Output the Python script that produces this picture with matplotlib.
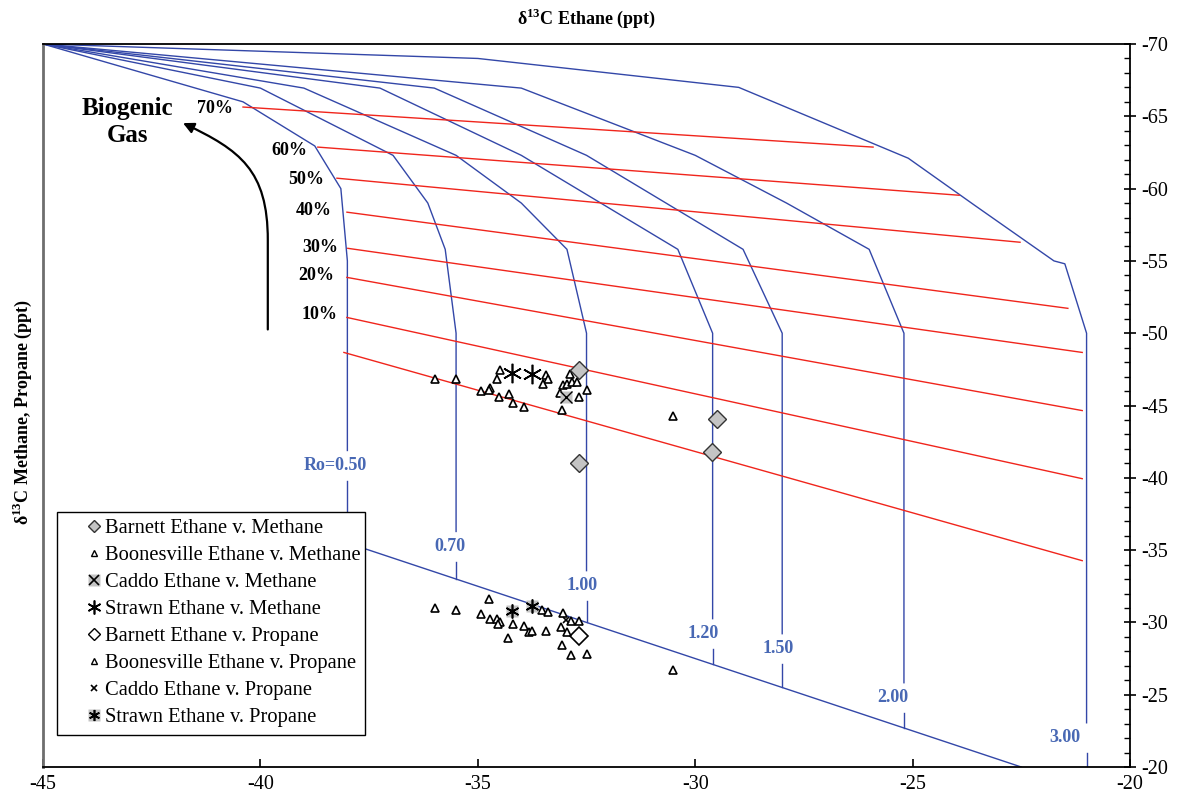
import numpy as np
import matplotlib.pyplot as plt
from matplotlib.lines import Line2D
from matplotlib.patches import FancyArrowPatch, Rectangle
from matplotlib.path import Path
from matplotlib.ticker import MultipleLocator

plt.rcParams['font.family'] = ['Liberation Serif', 'DejaVu Serif']
plt.rcParams['mathtext.fontset'] = 'custom'
plt.rcParams['mathtext.rm'] = 'Liberation Serif'
plt.rcParams['mathtext.bf'] = 'Liberation Serif:bold'
plt.rcParams['axes.unicode_minus'] = False

# --- maturity (Ro) curves: delta13C ethane vs methane ---
ro_labels = ['Ro=0.50', '0.70', '1.00', '1.20', '1.50', '2.00', '3.00']
ro_x = [
    [-45, -40.4, -38.75, -38.15, -38.0],
    [-45, -40.0, -36.95, -36.15, -35.75, -35.5],
    [-45, -39.0, -35.5, -34.0, -32.95, -32.5],
    [-45, -37.25, -34.0, -30.4, -29.6],
    [-45, -36.0, -32.5, -28.9, -28.0],
    [-45, -34.0, -30.0, -27.9, -26.0, -25.2],
    [-45, -35.0, -29.0, -25.1, -23.6, -21.75, -21.5, -21.0],
]
ro_y = [
    [-70, -66.0, -62.95, -60.0, -55.0],
    [-70, -66.95, -62.3, -59.0, -55.8, -50.0],
    [-70, -66.95, -62.3, -59.0, -55.8, -50.0],
    [-70, -66.95, -62.3, -55.8, -50.0],
    [-70, -66.95, -62.3, -55.8, -50.0],
    [-70, -66.95, -62.3, -59.0, -55.8, -50.0],
    [-70, -69.0, -67.0, -62.1, -58.9, -55.0, -54.8, -50.0],
]
ro_label_x = [-38.28, -35.64, -32.6, -29.82, -28.1, -25.45, -21.5]
ro_label_y = [-40.84, -35.24, -32.53, -29.21, -28.17, -24.78, -22.01]

# ethane-propane maturity line
base_x = [-40.0, -22.5]
base_y = [-37.5, -20.0]

# --- mixing lines (% biogenic) ---
pct_labels = ['70%', '60%', '50%', '40%', '30%', '20%', '10%', '']
red_x0 = [-40.40, -38.68, -38.24, -38.01, -37.99, -38.01, -38.01, -38.08]
red_y0 = [-65.64, -62.87, -60.72, -58.37, -55.87, -53.86, -51.09, -48.67]
red_x1 = [-25.91, -23.93, -22.53, -21.43, -21.10, -21.10, -21.10, -21.10]
red_y1 = [-62.87, -59.54, -56.29, -51.72, -48.67, -44.65, -39.94, -34.27]
pct_label_x = [-41.04, -39.34, -38.95, -38.77, -38.63, -38.72, -38.63]
pct_label_y = [-65.57, -62.66, -60.65, -58.50, -55.94, -54.00, -51.30]

# --- samples ---
barnett_m_x = [-32.67, -29.51, -29.61, -32.67]
barnett_m_y = [-47.49, -44.08, -41.77, -41.03]
boone_m_x = [-35.98, -35.51, -34.48, -34.55, -34.93, -34.72, -34.74, -34.52, -34.29, -34.20,
             -33.94, -33.43, -33.39, -33.51, -32.87, -33.05, -32.95, -32.84, -32.73, -33.10,
             -32.67, -32.48, -33.06, -30.51]
boone_m_y = [-46.85, -46.85, -47.49, -46.80, -46.00, -46.18, -46.05, -45.57, -45.81, -45.16,
             -44.90, -47.13, -46.80, -46.50, -47.16, -46.39, -46.50, -46.66, -46.66, -45.85,
             -45.62, -46.09, -44.72, -44.25]
caddo_m_x = [-32.98]
caddo_m_y = [-45.57]
strawn_m_x = [-34.21, -33.76]
strawn_m_y = [-47.26, -47.15]

barnett_p_x = [-32.67]
barnett_p_y = [-29.05]
boone_p_x = [-35.98, -35.51, -34.74, -34.93, -34.72, -34.55, -34.49, -34.53, -34.20, -34.30,
             -33.94, -33.82, -33.76, -33.43, -33.52, -33.39, -33.05, -32.86, -32.67, -33.09,
             -32.96, -33.06, -32.86, -32.48, -30.51]
boone_p_y = [-30.99, -30.85, -31.61, -30.57, -30.27, -30.23, -30.04, -29.88, -29.88, -28.89,
             -29.76, -29.37, -29.42, -29.42, -30.87, -30.73, -30.62, -30.11, -30.11, -29.65,
             -29.37, -28.43, -27.76, -27.80, -26.72]
caddo_p_x = [-32.97]
caddo_p_y = [-30.16]
strawn_p_x = [-34.21, -33.76]
strawn_p_y = [-30.80, -31.15]

blue = '#3347a8'
label_blue = '#4868b4'
red = '#f0251c'
grey = '#c4c4c4'
star6 = (6, 2, 0)

fig = plt.figure(figsize=(11.78, 7.97), dpi=100)
ax = fig.add_axes([0.0365, 0.0376, 0.9228, 0.9072])

# Ro curves with a gap where the label sits
for xs, ys, lab, lx, ly in zip(ro_x, ro_y, ro_labels, ro_label_x, ro_label_y):
    xv = xs[-1]
    bottom = xv + 2.5 if xv + 2.5 < -20 else -20.0
    ax.plot(xs + [xv], ys + [ly - 1.05], color=blue, lw=1.0, zorder=2)
    ax.plot([xv, xv], [ly + 1.05, bottom], color=blue, lw=1.0, zorder=2)
    ax.text(lx, ly, lab, color=label_blue, fontsize=13, fontweight='bold',
            ha='center', va='center', zorder=3)

ax.plot(base_x, base_y, color=blue, lw=1.0, zorder=2)

for x0, y0, x1, y1 in zip(red_x0, red_y0, red_x1, red_y1):
    ax.plot([x0, x1], [y0, y1], color=red, lw=1.0, zorder=2)
for lab, lx, ly in zip(pct_labels, pct_label_x, pct_label_y):
    ax.text(lx, ly, lab, fontsize=13, fontweight='bold', ha='center', va='center')

# biogenic gas arrow
verts = [(-39.83, -50.26), (-39.83, -56.43), (-39.83, -61.27), (-40.47, -62.66), (-41.78, -64.53)]
codes = [Path.MOVETO, Path.LINETO, Path.CURVE4, Path.CURVE4, Path.CURVE4]
arrow = FancyArrowPatch(path=Path(verts, codes), arrowstyle='-|>', mutation_scale=16,
                        color='black', lw=1.6)
ax.add_patch(arrow)
ax.text(-43.05, -64.6, 'Biogenic\nGas', fontsize=18, fontweight='bold', ha='center',
        va='center', linespacing=1.2)

# samples
ax.plot(boone_m_x, boone_m_y, ls='none', marker='^', ms=5.5, mfc='white', mec='black', mew=1.2, zorder=4)
ax.plot(boone_p_x, boone_p_y, ls='none', marker='^', ms=5.5, mfc='white', mec='black', mew=1.2, zorder=4)
ax.plot(barnett_m_x, barnett_m_y, ls='none', marker='D', ms=9, mfc=grey, mec='#333333', mew=1.0, zorder=5)
ax.plot(barnett_p_x, barnett_p_y, ls='none', marker='D', ms=9, mfc='none', mec='black', mew=1.2, zorder=5)
ax.plot(caddo_m_x, caddo_m_y, ls='none', marker='s', ms=9, mfc=grey, mec='none', zorder=5)
ax.plot(caddo_m_x, caddo_m_y, ls='none', marker='x', ms=9, mec='black', mew=1.0, zorder=6)
ax.plot(caddo_p_x, caddo_p_y, ls='none', marker='x', ms=5, mec='black', mew=1.2, zorder=6)
ax.plot(strawn_m_x, strawn_m_y, ls='none', marker=star6, ms=14, mec='black', mew=1.2, zorder=6)
ax.plot(strawn_p_x, strawn_p_y, ls='none', marker='s', ms=8, mfc=grey, mec='none', zorder=5)
ax.plot(strawn_p_x, strawn_p_y, ls='none', marker=star6, ms=10, mec='black', mew=1.2, zorder=6)

# legend
handles = [
    Line2D([], [], ls='none', marker='D', ms=6, mfc=grey, mec='#333333'),
    Line2D([], [], ls='none', marker='^', ms=4, mfc='white', mec='black'),
    (Line2D([], [], ls='none', marker='s', ms=8, mfc=grey, mec='none'),
     Line2D([], [], ls='none', marker='x', ms=7, mec='black', mew=1.2)),
    Line2D([], [], ls='none', marker=star6, ms=10, mec='black', mew=1.2),
    Line2D([], [], ls='none', marker='D', ms=6, mfc='white', mec='black'),
    Line2D([], [], ls='none', marker='^', ms=4, mfc='white', mec='black'),
    Line2D([], [], ls='none', marker='x', ms=5, mec='black', mew=1.2),
    (Line2D([], [], ls='none', marker='s', ms=8, mfc=grey, mec='none'),
     Line2D([], [], ls='none', marker=star6, ms=8, mec='black', mew=1.2)),
]
labels = ['Barnett Ethane v. Methane', 'Boonesville Ethane v. Methane', 'Caddo Ethane v. Methane',
          'Strawn Ethane v. Methane', 'Barnett Ethane v. Propane', 'Boonesville Ethane v. Propane',
          'Caddo Ethane v. Propane', 'Strawn Ethane v. Propane']
ax.add_patch(Rectangle((0.0129, 0.044), 0.283, 0.309, transform=ax.transAxes,
                       facecolor='white', edgecolor='black', lw=1.0, zorder=7))
leg = ax.legend(handles, labels, loc='upper left', bbox_to_anchor=(0.040, 0.343),
                frameon=False, fontsize=14.8, handlelength=0.75, handletextpad=0.15,
                labelspacing=0.37, borderpad=0, borderaxespad=0)
leg.set_zorder(8)

# axes
ax.set_xlim(-45, -20)
ax.set_ylim(-20, -70)
ax.yaxis.tick_right()
ax.xaxis.set_major_locator(MultipleLocator(5))
ax.yaxis.set_major_locator(MultipleLocator(5))
ax.yaxis.set_minor_locator(MultipleLocator(1))
ax.tick_params(axis='y', which='major', direction='inout', length=8, width=1.2, labelsize=14.5, pad=4)
ax.tick_params(axis='y', which='minor', direction='in', length=4, width=1.0)
ax.tick_params(axis='x', which='major', direction='in', length=6, width=1.2, labelsize=14.5, pad=6)
for side in ['top', 'right', 'bottom']:
    ax.spines[side].set_linewidth(1.3)
ax.spines['left'].set_color('#6e6e6e')
ax.spines['left'].set_linewidth(2.0)

fig.text(586 / 1178, 1 - 18 / 797, r'δ$^{\mathbf{13}}$C Ethane (ppt)', fontsize=13,
         fontweight='bold', ha='center', va='center')
fig.text(22 / 1178, 1 - 412 / 797, r'δ$^{\mathbf{13}}$C Methane, Propane (ppt)', fontsize=13,
         fontweight='bold', ha='center', va='center', rotation=90)

fig.savefig('out.png', dpi=100)
